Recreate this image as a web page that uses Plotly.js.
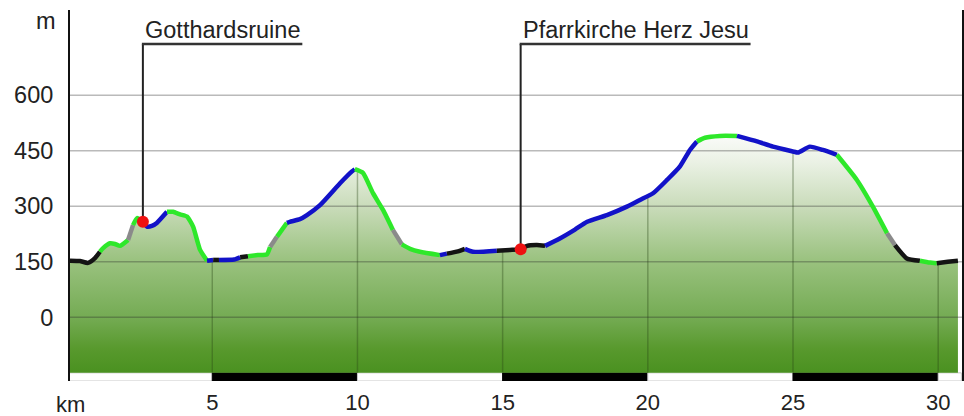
<!DOCTYPE html>
<html>
<head>
<meta charset="utf-8">
<script src="https://cdn.plot.ly/plotly-3.0.1.min.js"></script>
<style>html,body{margin:0;padding:0;background:#fff;}#chart{width:964px;height:416px;}</style>
</head>
<body>
<div id="chart"></div>
<script>
// ---- data ----
const km = [0.10,0.44,0.72,0.96,1.13,1.24,1.48,1.65,1.82,2.10,2.27,2.41,2.61,2.75,2.92,3.09,3.44,3.65,3.89,4.13,4.34,4.58,4.82,5.03,5.23,5.75,5.96,6.23,6.57,6.88,6.99,7.23,7.57,7.67,8.02,8.26,8.71,9.40,9.81,9.91,10.19,10.53,10.88,11.22,11.53,11.81,12.15,12.84,13.08,13.46,13.70,13.98,14.80,15.25,15.62,15.84,16.18,16.46,16.97,17.49,17.91,18.59,19.28,19.73,20.18,20.66,21.10,21.45,21.69,21.97,22.48,23.07,23.76,24.31,25.00,25.17,25.58,26.03,26.51,27.20,27.75,28.24,28.51,28.92,29.37,29.71,29.95,30.33,30.68];
const elevation = [153,152,147,160,177,187,200,198,193,209,249,268,258,245,247,255,285,285,278,272,245,182,153,155,155,156,162,165,168,170,190,218,255,258,265,276,303,362,394,400,390,336,290,236,197,185,177,168,172,178,185,177,180,182,184,193,195,193,213,237,258,276,299,317,335,371,407,452,475,485,490,490,475,461,448,445,461,452,439,371,299,227,195,159,153,148,146,150,153];
// surface class of the segment starting at each point: g=green, b=blue, k=black, r=grey
const surface = ['k','k','k','k','g','g','g','g','g','r','g','g','b','b','b','b','g','g','g','g','g','g','b','k','b','b','k','g','g','g','r','g','b','b','b','b','b','b','b','g','g','g','g','r','g','g','g','b','k','k','b','b','k','k','k','k','k','b','b','b','b','b','b','b','b','b','b','b','g','g','g','b','b','b','b','b','b','b','g','g','g','r','k','k','g','g','k','k','k'];
const poiNames = ['Gotthardsruine','Pfarrkirche Herz Jesu'];
const poiKm = [2.61, 15.62];
const poiEle = [258, 184];
const xTicks = [5,10,15,20,25,30];
const yTicks = [0,150,300,450,600];
const scaleEdges = [0,5,10,15,20,25,30,30.8];

// ---- style ----
const surfColors = {g:'#2ee82a', b:'#1212c8', k:'#141414', r:'#8a8a8a'};
const FONT = "Liberation Sans, Arial, sans-serif";
const FS = 23.5;
const FSX = 22;
const baseEle = -150, yMin = -172, yMax = 830, labelLevel = 738;
const xRange = [0.1, 30.82];

const traces = [];
// baseline for fill
traces.push({x:[km[0], km[km.length-1]], y:[baseEle, baseEle], mode:'lines', line:{width:0}, hoverinfo:'skip', showlegend:false});
// gradient fill
traces.push({x:km, y:elevation, mode:'lines', line:{width:0, shape:'spline', smoothing:0.5}, fill:'tonexty',
  fillgradient:{type:'vertical', start:baseEle, stop:495,
    colorscale:[[0,'#4a9120'],[0.1,'#58992d'],[0.23,'#74ab53'],[0.47,'#9ac27f'],[0.7,'#cadcbb'],[0.88,'#eaf1e4'],[1,'#fbfcfa']]},
  hoverinfo:'skip', showlegend:false});
// vertical grid lines (inside fill only)
function eleAt(t){
  for(let i=0;i<km.length-1;i++){
    if(t>=km[i] && t<=km[i+1]){const f=(t-km[i])/(km[i+1]-km[i]);return elevation[i]+f*(elevation[i+1]-elevation[i]);}
  }
  return elevation[elevation.length-1];
}
const vgx=[], vgy=[];
xTicks.forEach(t=>{vgx.push(t,t,null); vgy.push(baseEle, eleAt(t)-4, null);});
traces.push({x:vgx, y:vgy, mode:'lines', line:{color:'rgba(40,70,20,0.35)', width:1.5}, hoverinfo:'skip', showlegend:false});
// horizontal grid lines
const hgx=[], hgy=[];
yTicks.forEach(v=>{hgx.push(xRange[0], xRange[1], null); hgy.push(v, v, null);});
traces.push({x:hgx, y:hgy, mode:'lines', line:{color:'rgba(40,40,40,0.32)', width:1.5}, hoverinfo:'skip', showlegend:false});
// km scale bar
const barX=[], barW=[], barC=[], barL=[];
for(let i=0;i<scaleEdges.length-1;i++){
  barX.push((scaleEdges[i]+scaleEdges[i+1])/2); barW.push(scaleEdges[i+1]-scaleEdges[i]);
  barC.push(i%2 ? '#000000' : '#ffffff'); barL.push(i%2 ? '#000000' : '#c8c8c8');
}
traces.push({type:'bar', x:barX, width:barW, base:yMin, y:barX.map(()=>baseEle-yMin),
  marker:{color:barC, line:{color:barL, width:1}}, hoverinfo:'skip', showlegend:false});
// coloured profile segments
let start=0;
for(let i=1;i<km.length;i++){
  if(i===km.length-1 || surface[i]!==surface[start]){
    const xs=km.slice(start,i+1), ys=elevation.slice(start,i+1);
    traces.push({x:xs, y:ys, mode:'lines', line:{color:surfColors[surface[start]], width:4.5, shape:'spline', smoothing:0.5}, hoverinfo:'skip', showlegend:false});
    start=i;
  }
}
// POI markers
traces.push({x:poiKm, y:poiEle, mode:'markers', marker:{color:'#ee1111', size:12}, hoverinfo:'skip', showlegend:false, cliponaxis:false});

// text measure for underline
const ctx=document.createElement('canvas').getContext('2d');
ctx.font = FS+"px 'Liberation Sans'";
const shapes=[], annotations=[];
poiNames.forEach((n,i)=>{
  const w=ctx.measureText(n).width;
  shapes.push({type:'line', xref:'x', yref:'y', x0:poiKm[i], x1:poiKm[i], y0:poiEle[i], y1:labelLevel, line:{color:'#222', width:2}, layer:'below'});
  shapes.push({type:'line', xref:'x', yref:'y', xsizemode:'pixel', xanchor:poiKm[i], x0:-1, x1:w+4, y0:labelLevel, y1:labelLevel, line:{color:'#333', width:2.5}});
  annotations.push({text:n, x:poiKm[i], y:labelLevel, xref:'x', yref:'y', xanchor:'left', yanchor:'bottom', xshift:0, yshift:-1, showarrow:false, font:{family:FONT, size:FS, color:'#222'}});
});
annotations.push({text:'m', xref:'paper', yref:'y', x:0, y:800, xanchor:'right', xshift:-12, showarrow:false, font:{family:FONT, size:FS, color:'#222'}});
annotations.push({text:'km', xref:'paper', yref:'paper', x:0, y:0, xanchor:'center', yanchor:'top', yshift:-9, showarrow:false, font:{family:FONT, size:FSX, color:'#222'}});

const layout = {
  width:964, height:416, margin:{l:70, r:2, t:10, b:35},
  paper_bgcolor:'#fff', plot_bgcolor:'#fff', bargap:0,
  font:{family:FONT, size:FS, color:'#222'},
  xaxis:{range:xRange, tickvals:xTicks, showgrid:false, zeroline:false, showline:false, ticks:'', ticklabelstandoff:6, tickfont:{family:FONT, size:FSX, color:'#222'}, fixedrange:true},
  yaxis:{range:[yMin,yMax], tickvals:yTicks, showgrid:false, zeroline:false, showline:true, mirror:true, linecolor:'#111', linewidth:2, ticks:'', ticklabelstandoff:10, tickfont:{family:FONT, size:FS, color:'#222'}, fixedrange:true},
  shapes:shapes, annotations:annotations, showlegend:false
};
Plotly.newPlot('chart', traces, layout, {staticPlot:true});
</script>
</body>
</html>
